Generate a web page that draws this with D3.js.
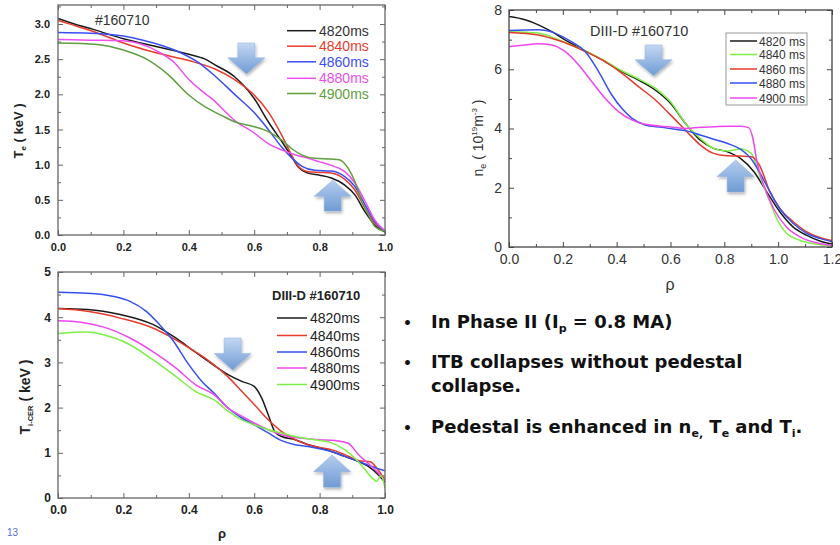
<!DOCTYPE html>
<html><head><meta charset="utf-8">
<script src="https://cdn.jsdelivr.net/npm/d3@7"></script>
<style>
body{margin:0;background:#fff}
svg text{font-family:"Liberation Sans",Arial,sans-serif}
.bul text{font-family:"DejaVu Sans",sans-serif}
</style></head><body>
<svg id="chart" width="840" height="545"></svg>
<script>
// ---- data: [rho, value] ----
var timeLabels = ["4820ms","4840ms","4860ms","4880ms","4900ms"]
var neLabels = ["4820 ms","4840 ms","4860 ms","4880 ms","4900 ms"]

// electron temperature (keV)
var te4820 = [[0,3.08],[0.05,3.0],[0.11,2.92],[0.2,2.79],[0.3,2.68],[0.4,2.57],[0.45,2.5],[0.48,2.42],[0.54,2.25],[0.6,1.94],[0.643,1.61],[0.684,1.33],[0.714,1.12],[0.734,0.97],[0.765,0.88],[0.8,0.85],[0.836,0.81],[0.877,0.71],[0.908,0.57],[0.939,0.33],[0.969,0.14],[1.0,0.04]]
var te4840 = [[0,3.05],[0.05,2.98],[0.11,2.89],[0.2,2.73],[0.3,2.59],[0.4,2.48],[0.48,2.36],[0.54,2.21],[0.6,1.99],[0.643,1.75],[0.684,1.42],[0.714,1.14],[0.734,0.98],[0.765,0.9],[0.8,0.89],[0.836,0.88],[0.877,0.79],[0.908,0.64],[0.939,0.38],[0.969,0.17],[1.0,0.05]]
var te4860 = [[0,2.88],[0.1,2.87],[0.2,2.83],[0.26,2.77],[0.356,2.63],[0.43,2.45],[0.48,2.26],[0.54,2.0],[0.6,1.74],[0.643,1.5],[0.684,1.25],[0.714,1.1],[0.745,0.98],[0.785,0.92],[0.836,0.91],[0.877,0.83],[0.908,0.69],[0.939,0.43],[0.969,0.19],[1.0,0.05]]
var te4880 = [[0,2.78],[0.1,2.77],[0.2,2.76],[0.305,2.61],[0.356,2.45],[0.4,2.21],[0.45,2.01],[0.48,1.9],[0.51,1.76],[0.54,1.63],[0.6,1.45],[0.643,1.3],[0.684,1.21],[0.725,1.14],[0.765,1.09],[0.8,1.04],[0.836,0.99],[0.877,0.9],[0.908,0.74],[0.939,0.48],[0.969,0.21],[1.0,0.06]]
var te4900 = [[0,2.73],[0.12,2.71],[0.2,2.63],[0.275,2.49],[0.337,2.28],[0.4,1.99],[0.45,1.82],[0.5,1.7],[0.54,1.61],[0.6,1.54],[0.643,1.47],[0.684,1.35],[0.714,1.23],[0.745,1.14],[0.785,1.09],[0.836,1.08],[0.86,1.07],[0.887,0.95],[0.908,0.76],[0.929,0.48],[0.949,0.29],[0.969,0.12],[1.0,0.05]]

// electron density (1e19 m^-3)
var ne4820 = [[0,7.78],[0.06,7.67],[0.109,7.5],[0.159,7.27],[0.208,6.99],[0.283,6.62],[0.357,6.26],[0.419,5.92],[0.48,5.64],[0.543,5.3],[0.6,4.85],[0.66,4.12],[0.71,3.61],[0.76,3.33],[0.81,3.22],[0.86,2.99],[0.91,2.54],[0.957,1.87],[1.006,1.19],[1.055,0.68],[1.105,0.4],[1.155,0.2],[1.2,0.1]]
var ne4840 = [[0,7.27],[0.109,7.22],[0.17,7.05],[0.23,6.82],[0.283,6.62],[0.357,6.28],[0.419,5.95],[0.48,5.68],[0.543,5.36],[0.6,4.9],[0.66,4.12],[0.71,3.67],[0.76,3.33],[0.81,3.24],[0.86,3.31],[0.9,3.16],[0.93,2.43],[0.969,1.53],[1.0,0.86],[1.03,0.47],[1.08,0.23],[1.14,0.1],[1.2,0.04]]
var ne4860 = [[0,7.24],[0.109,7.16],[0.17,7.01],[0.23,6.82],[0.283,6.6],[0.357,6.26],[0.419,5.87],[0.48,5.42],[0.543,4.97],[0.6,4.46],[0.66,3.9],[0.71,3.45],[0.76,3.16],[0.81,3.08],[0.86,3.07],[0.9,3.05],[0.93,2.77],[0.969,1.87],[1.006,1.3],[1.055,0.86],[1.105,0.52],[1.155,0.32],[1.2,0.22]]
var ne4880 = [[0,7.31],[0.109,7.33],[0.17,7.22],[0.23,6.94],[0.283,6.6],[0.333,5.92],[0.382,5.13],[0.419,4.68],[0.456,4.35],[0.506,4.12],[0.568,4.04],[0.61,3.98],[0.66,3.92],[0.71,3.78],[0.76,3.64],[0.81,3.5],[0.86,3.3],[0.9,2.97],[0.93,2.54],[0.969,1.87],[1.006,1.3],[1.055,0.8],[1.105,0.47],[1.155,0.29],[1.2,0.18]]
var ne4900 = [[0,6.77],[0.06,6.82],[0.109,6.86],[0.159,6.82],[0.208,6.6],[0.258,6.15],[0.308,5.58],[0.357,5.02],[0.407,4.57],[0.456,4.29],[0.506,4.14],[0.6,4.05],[0.66,4.0],[0.71,4.04],[0.76,4.06],[0.81,4.08],[0.86,4.08],[0.89,4.03],[0.906,3.67],[0.921,2.88],[0.946,2.1],[0.983,1.3],[1.03,0.68],[1.092,0.29],[1.155,0.12],[1.2,0.06]]

// ion temperature (keV)
var ti4820 = [[0,4.19],[0.09,4.17],[0.19,4.06],[0.29,3.84],[0.36,3.54],[0.41,3.28],[0.46,3.02],[0.52,2.73],[0.562,2.58],[0.6,2.47],[0.623,2.21],[0.643,1.84],[0.663,1.47],[0.684,1.36],[0.725,1.29],[0.765,1.18],[0.8,1.11],[0.836,1.03],[0.877,0.92],[0.918,0.81],[0.949,0.7],[0.98,0.51],[1.0,0.35]]
var ti4840 = [[0,4.19],[0.09,4.13],[0.19,3.98],[0.29,3.76],[0.36,3.5],[0.41,3.28],[0.46,3.04],[0.52,2.68],[0.562,2.36],[0.6,2.07],[0.643,1.73],[0.684,1.47],[0.725,1.29],[0.765,1.18],[0.8,1.12],[0.836,1.07],[0.877,0.96],[0.918,0.83],[0.955,0.8],[0.975,0.66],[1.0,0.4]]
var ti4860 = [[0,4.55],[0.09,4.53],[0.17,4.46],[0.22,4.35],[0.27,4.13],[0.31,3.84],[0.35,3.5],[0.4,2.95],[0.44,2.58],[0.48,2.3],[0.52,1.99],[0.562,1.77],[0.6,1.62],[0.643,1.44],[0.684,1.27],[0.725,1.18],[0.765,1.14],[0.8,1.09],[0.836,1.03],[0.877,0.92],[0.918,0.81],[0.959,0.7],[1.0,0.6]]
var ti4880 = [[0,3.92],[0.07,3.89],[0.14,3.78],[0.22,3.54],[0.29,3.24],[0.36,2.88],[0.42,2.51],[0.48,2.27],[0.52,1.99],[0.562,1.81],[0.6,1.66],[0.643,1.51],[0.684,1.4],[0.725,1.34],[0.765,1.31],[0.8,1.29],[0.846,1.27],[0.887,1.21],[0.92,0.95],[0.949,0.76],[0.98,0.55],[1.0,0.38]]
var ti4900 = [[0,3.64],[0.09,3.67],[0.14,3.61],[0.22,3.39],[0.29,3.06],[0.36,2.69],[0.42,2.36],[0.48,2.16],[0.52,1.92],[0.562,1.73],[0.6,1.62],[0.643,1.51],[0.684,1.44],[0.725,1.36],[0.765,1.31],[0.8,1.27],[0.836,1.22],[0.877,1.07],[0.908,0.88],[0.939,0.63],[0.959,0.45],[0.975,0.37],[0.988,0.5],[1.0,0.22]]

var svg = d3.select("#chart")
var defs = svg.append("defs")
var grad = defs.append("linearGradient").attr("id","arrowFill").attr("x1",0).attr("y1",0).attr("x2",0).attr("y2",1)
grad.append("stop").attr("offset","0%").attr("stop-color","#c3d8f3")
grad.append("stop").attr("offset","100%").attr("stop-color","#6f9bd4")
var gradUp = defs.append("linearGradient").attr("id","arrowFillUp").attr("x1",0).attr("y1",0).attr("x2",0).attr("y2",1)
gradUp.append("stop").attr("offset","0%").attr("stop-color","#b5cdef")
gradUp.append("stop").attr("offset","100%").attr("stop-color","#6f9bd4")
defs.append("filter").attr("id","shadow").attr("x","-30%").attr("y","-30%").attr("width","160%").attr("height","160%")
  .append("feDropShadow").attr("dx",1).attr("dy",2).attr("stdDeviation",1.5).attr("flood-color","#000").attr("flood-opacity",0.3)

function range(a,b,s){
    var out=[]
    for(var v=a; v<=b+1e-9; v+=s) out.push(+v.toFixed(3))
    return out
}

function drawPanel(p){
    var x = d3.scaleLinear().domain(p.xDomain).range([p.left,p.right])
    var y = d3.scaleLinear().domain(p.yDomain).range([p.bottom,p.top])
    var g = svg.append("g")
    var tickCol = p.frame

    // axes with inward ticks on all four sides
    function ax(axisFn, scale, vals, size, fmt, pos, showLabels){
        var a = axisFn(scale).tickValues(vals).tickSize(size).tickPadding(p.pad)
            .tickFormat(showLabels ? fmt : "")
        var gg = g.append("g").attr("transform",pos).call(a)
        gg.select(".domain").remove()
        gg.selectAll("line").attr("stroke",tickCol).attr("stroke-width",1)
        gg.selectAll("text").attr("font-size",p.tickFont).attr("font-weight",p.tickWeight)
            .attr("fill",p.tickColor).attr("font-family","Liberation Sans, Arial, sans-serif")
        return gg
    }
    var xf = d3.format(".1f")
    ax(d3.axisBottom, x, p.xMajor, -5, xf, "translate(0,"+p.bottom+")", true)
    ax(d3.axisBottom, x, p.xMinor, -3, xf, "translate(0,"+p.bottom+")", false)
    ax(d3.axisTop, x, p.xMajor, -5, xf, "translate(0,"+p.top+")", false)
    ax(d3.axisTop, x, p.xMinor, -3, xf, "translate(0,"+p.top+")", false)
    ax(d3.axisLeft, y, p.yMajor, -5, p.yFmt, "translate("+p.left+",0)", true)
    ax(d3.axisLeft, y, p.yMinor, -3, p.yFmt, "translate("+p.left+",0)", false)
    ax(d3.axisRight, y, p.yMajor, -5, p.yFmt, "translate("+p.right+",0)", false)
    ax(d3.axisRight, y, p.yMinor, -3, p.yFmt, "translate("+p.right+",0)", false)

    // clip the curves to the frame
    var cid = "clip"+p.id
    defs.append("clipPath").attr("id",cid).append("rect")
        .attr("x",p.left).attr("y",p.top).attr("width",p.right-p.left).attr("height",p.bottom-p.top)

    var line = d3.line().x(function(d){return x(d[0])}).y(function(d){return y(d[1])})
        .curve(d3.curveMonotoneX)
    g.append("g").attr("clip-path","url(#"+cid+")")
        .selectAll("path").data(p.series).enter().append("path")
        .attr("d",function(d){return line(d)})
        .attr("fill","none")
        .attr("stroke",function(d,i){return p.colors[i]})
        .attr("stroke-width",1.5)

    g.append("rect").attr("x",p.left).attr("y",p.top)
        .attr("width",p.right-p.left).attr("height",p.bottom-p.top)
        .attr("fill","none").attr("stroke",p.frame).attr("stroke-width",1.3)

    // block arrows
    p.arrows.forEach(function(a){
        var cx = x(a.x), yt = y(a.y0), yb = y(a.y1)
        var hw = 18.5, sw = 8.5, h = yb-yt
        var d
        if(a.dir=="down"){
            var ym = yt + h*0.48
            d = "M"+(cx-sw)+","+yt+"H"+(cx+sw)+"V"+ym+"H"+(cx+hw)+"L"+cx+","+yb+"L"+(cx-hw)+","+ym+"H"+(cx-sw)+"Z"
        } else {
            var ym2 = yt + h*0.52
            d = "M"+(cx-sw)+","+yb+"H"+(cx+sw)+"V"+ym2+"H"+(cx+hw)+"L"+cx+","+yt+"L"+(cx-hw)+","+ym2+"H"+(cx-sw)+"Z"
        }
        g.append("path").attr("d",d).attr("fill", a.dir=="down" ? "url(#arrowFill)" : "url(#arrowFillUp)")
            .attr("stroke","#8fb0de").attr("stroke-width",0.5).attr("filter","url(#shadow)")
    })
    return {x:x,y:y,g:g}
}

// ---------- panel 1 : Te ----------
var p1 = drawPanel({
    id:1, left:58, right:385, top:5, bottom:235,
    xDomain:[0,1], yDomain:[0,3.27],
    xMajor:range(0,1,0.2), xMinor:range(0.1,0.9,0.2),
    yMajor:range(0,3,0.5), yMinor:range(0.25,3.25,0.5), yFmt:d3.format(".1f"),
    pad:8, tickFont:11, tickWeight:"bold", tickColor:"#222", frame:"#666",
    series:[te4820,te4840,te4860,te4880,te4900],
    colors:["#1a1a1a","#ea3b2c","#3a4ef5","#f04ef0","#5f9e3e"],
    arrows:[{x:0.576,y0:2.73,y1:2.29,dir:"down"},{x:0.84,y0:0.78,y1:0.34,dir:"up"}]
})
p1.g.append("text").attr("x",95).attr("y",25).attr("font-size",14).attr("fill","#333").text("#160710")
var l1 = p1.g.selectAll(".leg1").data(timeLabels).enter().append("g")
    .attr("transform",function(d,i){return "translate(0,"+[30.7,46.2,61.8,78.3,93.5][i]+")"})
l1.append("line").attr("x1",287).attr("x2",316).attr("stroke",function(d,i){return ["#1a1a1a","#ea3b2c","#3a4ef5","#f04ef0","#5f9e3e"][i]}).attr("stroke-width",1.5)
l1.append("text").attr("x",319).attr("y",5).attr("font-size",14)
    .attr("fill",function(d,i){return ["#333","#ea3b2c","#3a4ef5","#f04ef0","#5f9e3e"][i]}).text(function(d){return d})
var t1 = p1.g.append("text").attr("transform","translate(23,131) rotate(-90)").attr("text-anchor","middle")
    .attr("font-size",13).attr("font-weight","bold").attr("fill","#222")
t1.append("tspan").text("T")
t1.append("tspan").attr("font-size",8).attr("dy",3).text("e")
t1.append("tspan").attr("dy",-3).text(" ( keV )")

// ---------- panel 2 : ne ----------
var neColors = ["#1a1a1a","#7ef045","#e8392b","#3550f0","#f046f0"]
var p2 = drawPanel({
    id:2, left:509, right:832, top:10, bottom:247,
    xDomain:[0,1.2], yDomain:[0,8],
    xMajor:range(0,1.2,0.2), xMinor:range(0.1,1.1,0.2),
    yMajor:[0,2,4,6,8], yMinor:[1,3,5,7], yFmt:d3.format("d"),
    pad:7, tickFont:14, tickWeight:"normal", tickColor:"#333", frame:"#444",
    series:[ne4820,ne4840,ne4860,ne4880,ne4900],
    colors:neColors,
    arrows:[{x:0.537,y0:6.82,y1:5.78,dir:"down"},{x:0.842,y0:2.94,y1:1.86,dir:"up"}]
})
p2.g.append("text").attr("x",590).attr("y",36).attr("font-size",14.5).attr("fill","#333").text("DIII-D #160710")
p2.g.append("rect").attr("x",726).attr("y",33).attr("width",81).attr("height",72)
    .attr("fill","#fff").attr("stroke","#999").attr("stroke-width",1)
var l2 = p2.g.selectAll(".leg2").data(neLabels).enter().append("g")
    .attr("transform",function(d,i){return "translate(0,"+[41,54.5,69,83,98][i]+")"})
l2.append("line").attr("x1",730).attr("x2",757).attr("stroke",function(d,i){return neColors[i]}).attr("stroke-width",1.5)
l2.append("text").attr("x",759).attr("y",4.5).attr("font-size",12).attr("fill","#333").text(function(d){return d})
var t2 = p2.g.append("text").attr("transform","translate(483,138) rotate(-90)").attr("text-anchor","middle")
    .attr("font-size",14).attr("fill","#333")
t2.append("tspan").text("n")
t2.append("tspan").attr("font-size",9).attr("dy",3).text("e")
t2.append("tspan").attr("dy",-3).text(" ( 10")
t2.append("tspan").attr("font-size",8).attr("dy",-6).text("19")
t2.append("tspan").attr("dy",6).text("m")
t2.append("tspan").attr("font-size",8).attr("dy",-6).text("-3")
t2.append("tspan").attr("dy",6).text(" )")
p2.g.append("text").attr("x",670).attr("y",290).attr("text-anchor","middle").attr("font-size",16).attr("fill","#333").text("ρ")

// ---------- panel 3 : Ti ----------
var tiColors = ["#1a1a1a","#e8392b","#3550f0","#f046f0","#7ef045"]
var p3 = drawPanel({
    id:3, left:58, right:385, top:272, bottom:498,
    xDomain:[0,1], yDomain:[0,5],
    xMajor:range(0,1,0.2), xMinor:range(0.1,0.9,0.2),
    yMajor:[0,1,2,3,4,5], yMinor:[0.5,1.5,2.5,3.5,4.5], yFmt:d3.format("d"),
    pad:7, tickFont:12, tickWeight:"bold", tickColor:"#222", frame:"#666",
    series:[ti4820,ti4840,ti4860,ti4880,ti4900],
    colors:tiColors,
    arrows:[{x:0.534,y0:3.54,y1:2.83,dir:"down"},{x:0.838,y0:0.95,y1:0.24,dir:"up"}]
})
p3.g.append("text").attr("x",272).attr("y",300).attr("font-size",13).attr("font-weight","bold").attr("fill","#222").text("DIII-D #160710")
var l3 = p3.g.selectAll(".leg3").data(timeLabels).enter().append("g")
    .attr("transform",function(d,i){return "translate(0,"+[318,335.5,352,368,384.5][i]+")"})
l3.append("line").attr("x1",277).attr("x2",307).attr("stroke",function(d,i){return tiColors[i]}).attr("stroke-width",1.5)
l3.append("text").attr("x",310).attr("y",5).attr("font-size",14).attr("fill","#222").text(function(d){return d})
var t3 = p3.g.append("text").attr("transform","translate(30,397) rotate(-90)").attr("text-anchor","middle")
    .attr("font-size",14).attr("font-weight","bold").attr("fill","#222")
t3.append("tspan").text("T")
t3.append("tspan").attr("font-size",7.5).attr("dy",3).text("i-CER")
t3.append("tspan").attr("dy",-3).text("  ( keV )")
p3.g.append("text").attr("x",222).attr("y",538).attr("text-anchor","middle").attr("font-size",13).attr("font-weight","bold").attr("fill","#222").text("ρ")

svg.append("text").attr("x",7).attr("y",536).attr("font-size",10).attr("fill","#5a6fd0").text("13")

// ---------- bullet text ----------
var bul = svg.append("g").attr("class","bul").attr("font-weight","bold").attr("fill","#111")
var bfs = 18
function bullet(yy){ bul.append("text").attr("x",403).attr("y",yy).attr("font-size",14).text("•") }
bullet(328); bullet(368); bullet(433)
var b1 = bul.append("text").attr("x",431).attr("y",328).attr("font-size",bfs)
b1.append("tspan").text("In Phase II (I")
b1.append("tspan").attr("font-size",11).attr("dy",4).text("p")
b1.append("tspan").attr("dy",-4).text(" = 0.8 MA)")
bul.append("text").attr("x",431).attr("y",368).attr("font-size",bfs).text("ITB collapses without pedestal")
bul.append("text").attr("x",431).attr("y",392).attr("font-size",bfs).text("collapse.")
var b3 = bul.append("text").attr("x",431).attr("y",433).attr("font-size",bfs)
b3.append("tspan").text("Pedestal is enhanced in n")
b3.append("tspan").attr("font-size",11).attr("dy",4).text("e,")
b3.append("tspan").attr("dy",-4).text(" T")
b3.append("tspan").attr("font-size",11).attr("dy",4).text("e")
b3.append("tspan").attr("dy",-4).text(" and T")
b3.append("tspan").attr("font-size",11).attr("dy",4).text("i")
b3.append("tspan").attr("dy",-4).text(".")
</script></body></html>
